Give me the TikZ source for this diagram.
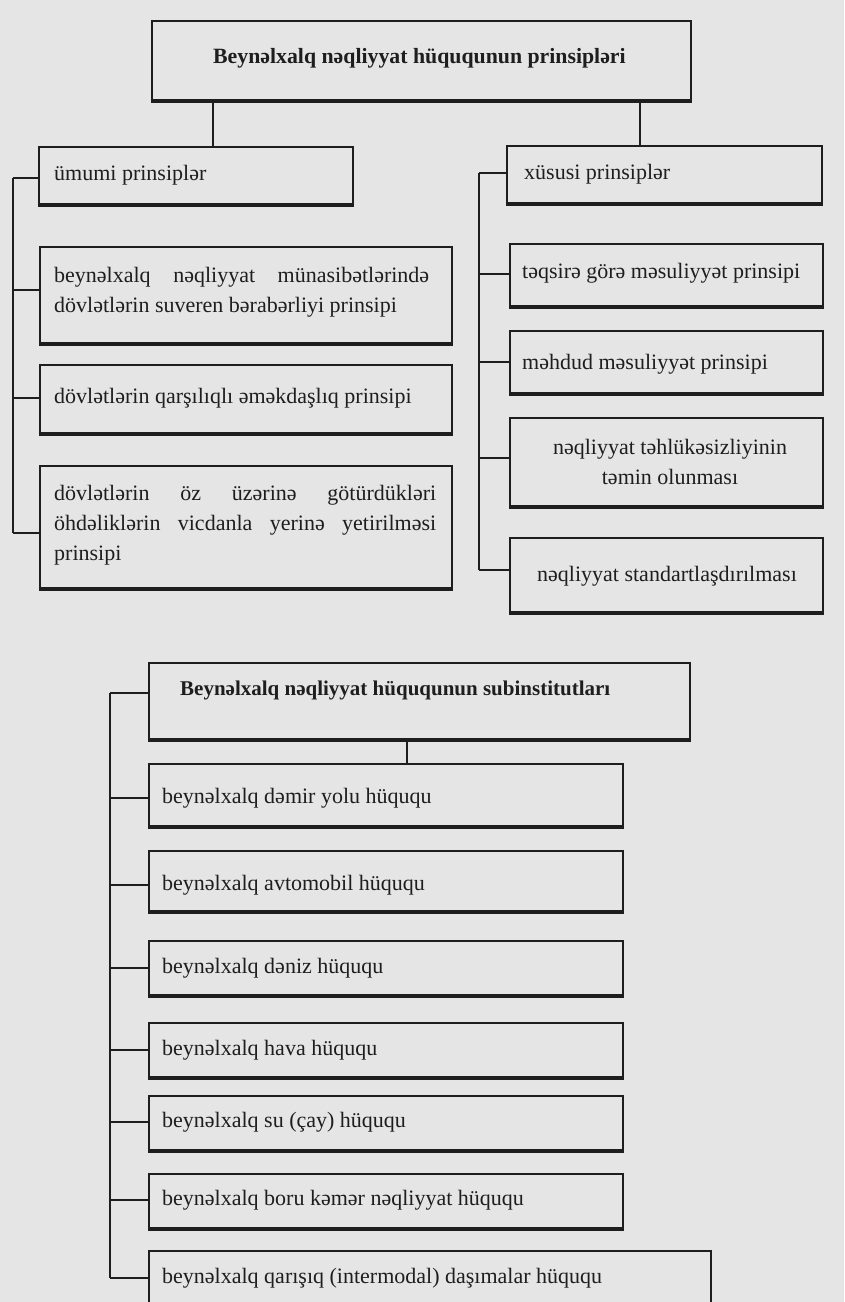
\documentclass[tikz,border=0pt]{standalone}
\usepackage{fontspec}
\setmainfont{Liberation Serif}
\definecolor{paper}{RGB}{229,229,229}
\definecolor{ink}{RGB}{30,30,30}
\begin{document}
\begin{tikzpicture}[x=1pt,y=-1pt,
  box/.style={draw=ink, line width=2.2pt, fill=paper, anchor=north west, inner sep=0pt},
  bot/.style={draw=ink, line width=3.4pt},
  lbl/.style={anchor=west, inner sep=0pt, text=ink, font=\fontsize{22}{30}\selectfont},
  clbl/.style={lbl, anchor=center, align=center},
  ttl/.style={lbl, font=\fontsize{21}{30}\selectfont\bfseries},
  conn/.style={draw=ink, line width=2pt}]
\fill[paper] (0,0) rectangle (844,1302);
\useasboundingbox (0,0) rectangle (844,1302);

% ---------- principles ----------
\node[box, minimum width=539pt, minimum height=79pt] (A) at (151,20) {};
\node[ttl, font=\fontsize{21.8}{30}\selectfont\bfseries] (At) at (213,58) {Beynəlxalq nəqliyyat hüququnun prinsipləri};

\node[box, minimum width=314pt, minimum height=57pt] (B) at (38,146) {};
\node[lbl] (Bt) at (54,175) {ümumi prinsiplər};
\node[box, minimum width=412pt, minimum height=96pt] (B2) at (39,246) {};
\node[lbl, align=left] (B2t) at (54,292) {\makebox[375pt][s]{beynəlxalq nəqliyyat münasibətlərində}\\dövlətlərin suveren bərabərliyi prinsipi};
\node[box, minimum width=412pt, minimum height=68pt] (B3) at (39,364) {};
\node[lbl] (B3t) at (54,398) {dövlətlərin qarşılıqlı əməkdaşlıq prinsipi};
\node[box, minimum width=412pt, minimum height=122pt] (B4) at (39,465) {};
\node[lbl, align=left] (B4t) at (54,525) {\makebox[382pt][s]{dövlətlərin öz üzərinə götürdükləri}\\\makebox[382pt][s]{öhdəliklərin vicdanla yerinə yetirilməsi}\\prinsipi};

\node[box, minimum width=315pt, minimum height=57pt] (C) at (506,145) {};
\node[lbl] (Ct) at (524,174) {xüsusi prinsiplər};
\node[box, minimum width=313pt, minimum height=62pt] (C2) at (509,243) {};
\node[lbl] (C2t) at (522,273) {təqsirə görə məsuliyyət prinsipi};
\node[box, minimum width=313pt, minimum height=62pt] (C3) at (509,330) {};
\node[lbl] (C3t) at (522,364) {məhdud məsuliyyət prinsipi};
\node[box, minimum width=313pt, minimum height=88pt] (C4) at (509,417) {};
\node[clbl] (C4t) at (670,462) {nəqliyyat təhlükəsizliyinin\\təmin olunması};
\node[box, minimum width=313pt, minimum height=74pt] (C5) at (509,537) {};
\node[clbl] (C5t) at (667,576) {nəqliyyat standartlaşdırılması};

\foreach \n in {A,B,B2,B3,B4,C,C2,C3,C4,C5} \draw[bot] (\n.south west) -- (\n.south east);

\path (A.south west) ++(62,0) coordinate (a1);
\path (A.south west) ++(489,0) coordinate (a2);
\draw[conn] (a1) -- (a1 |- B.north);
\draw[conn] (a2) -- (a2 |- C.north);

\coordinate (l1) at (13,178);
\coordinate (l2) at (13,290);
\coordinate (l3) at (13,398);
\coordinate (l4) at (13,533);
\draw[conn] (l1) -- (l4);
\draw[conn] (l1) -- (l1 -| B.west);
\draw[conn] (l2) -- (l2 -| B2.west);
\draw[conn] (l3) -- (l3 -| B3.west);
\draw[conn] (l4) -- (l4 -| B4.west);

\coordinate (r1) at (479,173);
\coordinate (r2) at (479,274);
\coordinate (r3) at (479,362);
\coordinate (r4) at (479,458);
\coordinate (r5) at (479,570);
\draw[conn] (r1) -- (r5);
\draw[conn] (r1) -- (r1 -| C.west);
\draw[conn] (r2) -- (r2 -| C2.west);
\draw[conn] (r3) -- (r3 -| C3.west);
\draw[conn] (r4) -- (r4 -| C4.west);
\draw[conn] (r5) -- (r5 -| C5.west);

% ---------- sub-institutes ----------
\node[box, minimum width=541pt, minimum height=76pt] (D) at (148,662) {};
\node[ttl] (Dt) at (180,690) {Beynəlxalq nəqliyyat hüququnun subinstitutları};

\node[box, minimum width=474pt, minimum height=62pt] (E1) at (148,763) {};
\node[lbl] (E1t) at (162,798) {beynəlxalq dəmir yolu hüququ};
\node[box, minimum width=474pt, minimum height=60pt] (E2) at (148,850) {};
\node[lbl] (E2t) at (162,885) {beynəlxalq avtomobil hüququ};
\node[box, minimum width=474pt, minimum height=54pt] (E3) at (148,940) {};
\node[lbl] (E3t) at (162,968) {beynəlxalq dəniz hüququ};
\node[box, minimum width=474pt, minimum height=54pt] (E4) at (148,1022) {};
\node[lbl] (E4t) at (162,1050) {beynəlxalq hava hüququ};
\node[box, minimum width=474pt, minimum height=54pt] (E5) at (148,1095) {};
\node[lbl] (E5t) at (162,1122) {beynəlxalq su (çay) hüququ};
\node[box, minimum width=474pt, minimum height=54pt] (E6) at (148,1173) {};
\node[lbl] (E6t) at (162,1200) {beynəlxalq boru kəmər nəqliyyat hüququ};
\node[box, minimum width=562pt, minimum height=60pt] (E7) at (148,1250) {};
\node[lbl] (E7t) at (162,1278) {beynəlxalq qarışıq (intermodal) daşımalar hüququ};

\foreach \n in {D,E1,E2,E3,E4,E5,E6} \draw[bot] (\n.south west) -- (\n.south east);

\path (D.south west) ++(259,0) coordinate (d1);
\draw[conn] (d1) -- (d1 |- E1.north);

\coordinate (s0) at (110,693);
\coordinate (s1) at (110,798);
\coordinate (s2) at (110,885);
\coordinate (s3) at (110,968);
\coordinate (s4) at (110,1050);
\coordinate (s5) at (110,1122);
\coordinate (s6) at (110,1200);
\coordinate (s7) at (110,1278);
\draw[conn] (s0) -- (s7);
\draw[conn] (s0) -- (s0 -| D.west);
\draw[conn] (s1) -- (s1 -| E1.west);
\draw[conn] (s2) -- (s2 -| E2.west);
\draw[conn] (s3) -- (s3 -| E3.west);
\draw[conn] (s4) -- (s4 -| E4.west);
\draw[conn] (s5) -- (s5 -| E5.west);
\draw[conn] (s6) -- (s6 -| E6.west);
\draw[conn] (s7) -- (s7 -| E7.west);
\end{tikzpicture}
\end{document}
